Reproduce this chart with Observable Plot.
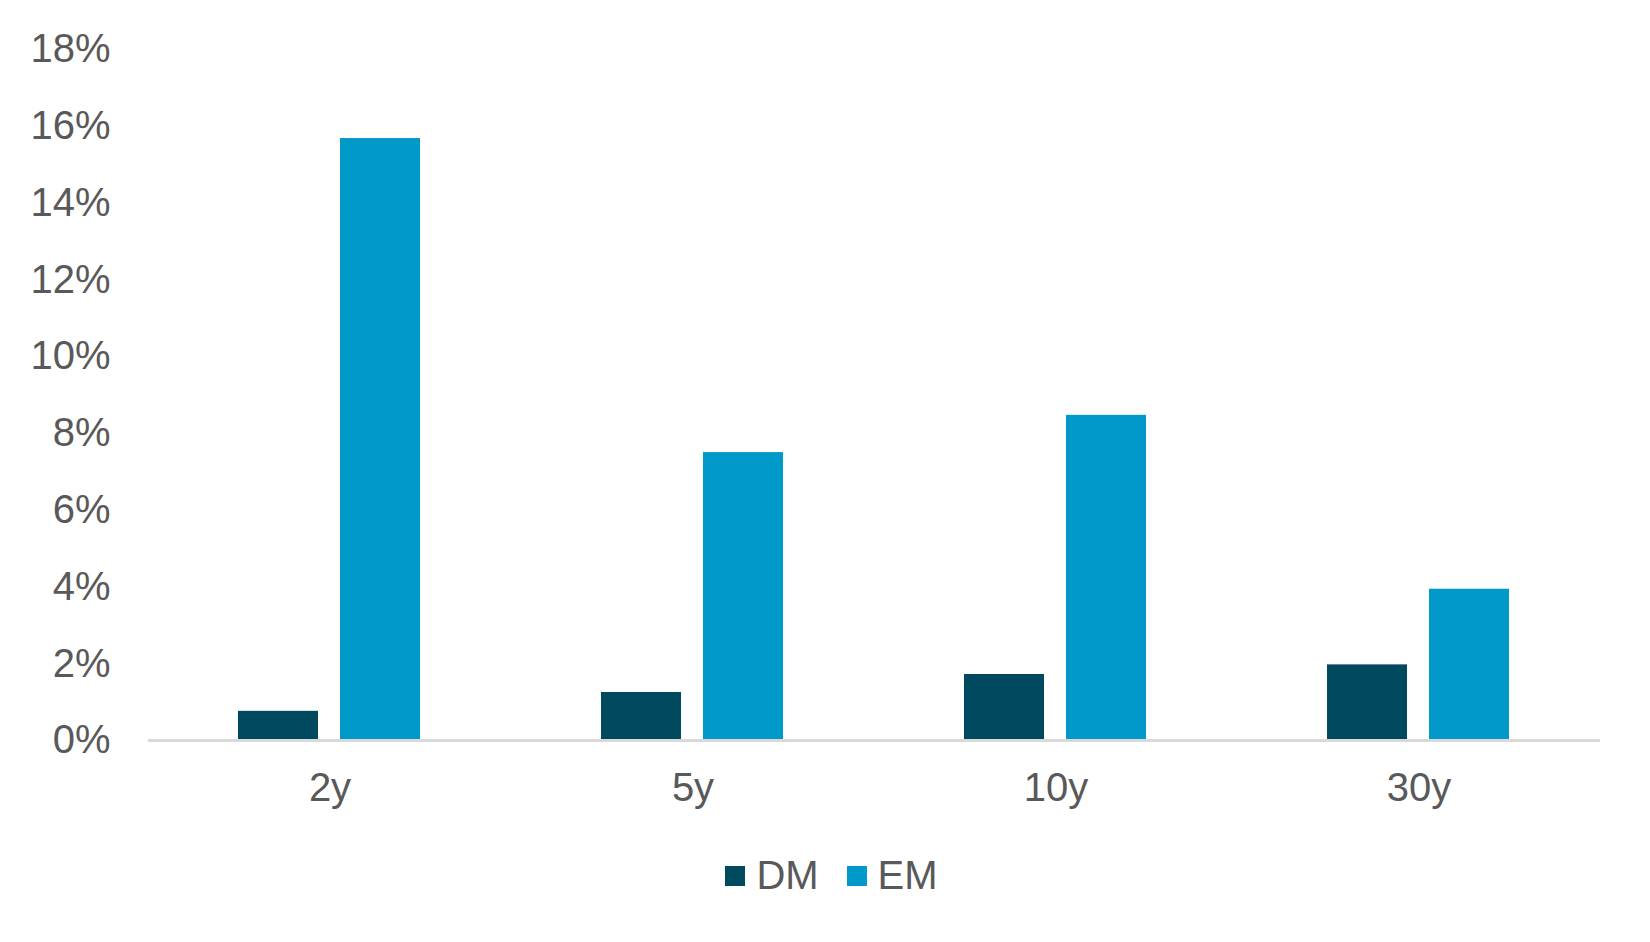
<!DOCTYPE html>
<html>
<head>
<meta charset="utf-8">
<script src="https://cdn.jsdelivr.net/npm/d3@7"></script>
<script src="https://cdn.jsdelivr.net/npm/@observablehq/plot@0.6"></script>
<style>
  html, body { margin: 0; padding: 0; background: #fff; }
  body { width: 1650px; font-family: "Liberation Sans", Arial, sans-serif; }
  #legend { display: flex; justify-content: center; align-items: center; height: 94px; margin-top: -2px; padding-left: 13px; color: #595959; font-size: 40px; }
  .item { display: flex; align-items: center; margin: 0 14px; }
  .sw { width: 20px; height: 20px; margin-right: 11px; margin-top: 2px; }
</style>
</head>
<body>
<div id="chart"></div>
<div id="legend"></div>
<script>
const tenors = ["2y", "5y", "10y", "30y"];
const series = ["DM", "EM"];
const dmValues = [0.76, 1.25, 1.72, 1.97];
const emValues = [15.68, 7.5, 8.47, 3.94];
const colors = ["#00495f", "#0099ca"];
const yTicks = [0, 2, 4, 6, 8, 10, 12, 14, 16, 18];

const data = [];
tenors.forEach((t, i) => {
  data.push({tenor: t, series: "DM", value: dmValues[i]});
  data.push({tenor: t, series: "EM", value: emValues[i]});
});

const chart = Plot.plot({
  width: 1650,
  height: 830,
  marginTop: 49,
  marginBottom: 90,
  marginLeft: 147,
  marginRight: 50,
  style: {fontFamily: "'Liberation Sans', Arial, sans-serif", fontSize: "40px", color: "#595959", background: "#fff"},
  fx: {domain: tenors, padding: 0, label: null, axis: "bottom", tickSize: 0, tickPadding: 32},
  x: {domain: series, axis: null, paddingInner: 0.2136, paddingOuter: 0.874},
  y: {domain: [0, 18], ticks: yTicks, tickFormat: d => d + "%", tickSize: 0, tickPadding: 38, label: null},
  color: {domain: series, range: colors},
  marks: [
    Plot.barY(data, {fx: "tenor", x: "series", y: "value", fill: "series"}),
    Plot.ruleY([0], {stroke: "#d9d9d9", strokeWidth: 3})
  ]
});
document.getElementById("chart").appendChild(chart);

const legend = document.getElementById("legend");
series.forEach((s, i) => {
  const item = document.createElement("div");
  item.className = "item";
  const sw = document.createElement("span");
  sw.className = "sw";
  sw.style.background = colors[i];
  const lab = document.createElement("span");
  lab.textContent = s;
  item.appendChild(sw);
  item.appendChild(lab);
  legend.appendChild(item);
});
</script>
</body>
</html>
